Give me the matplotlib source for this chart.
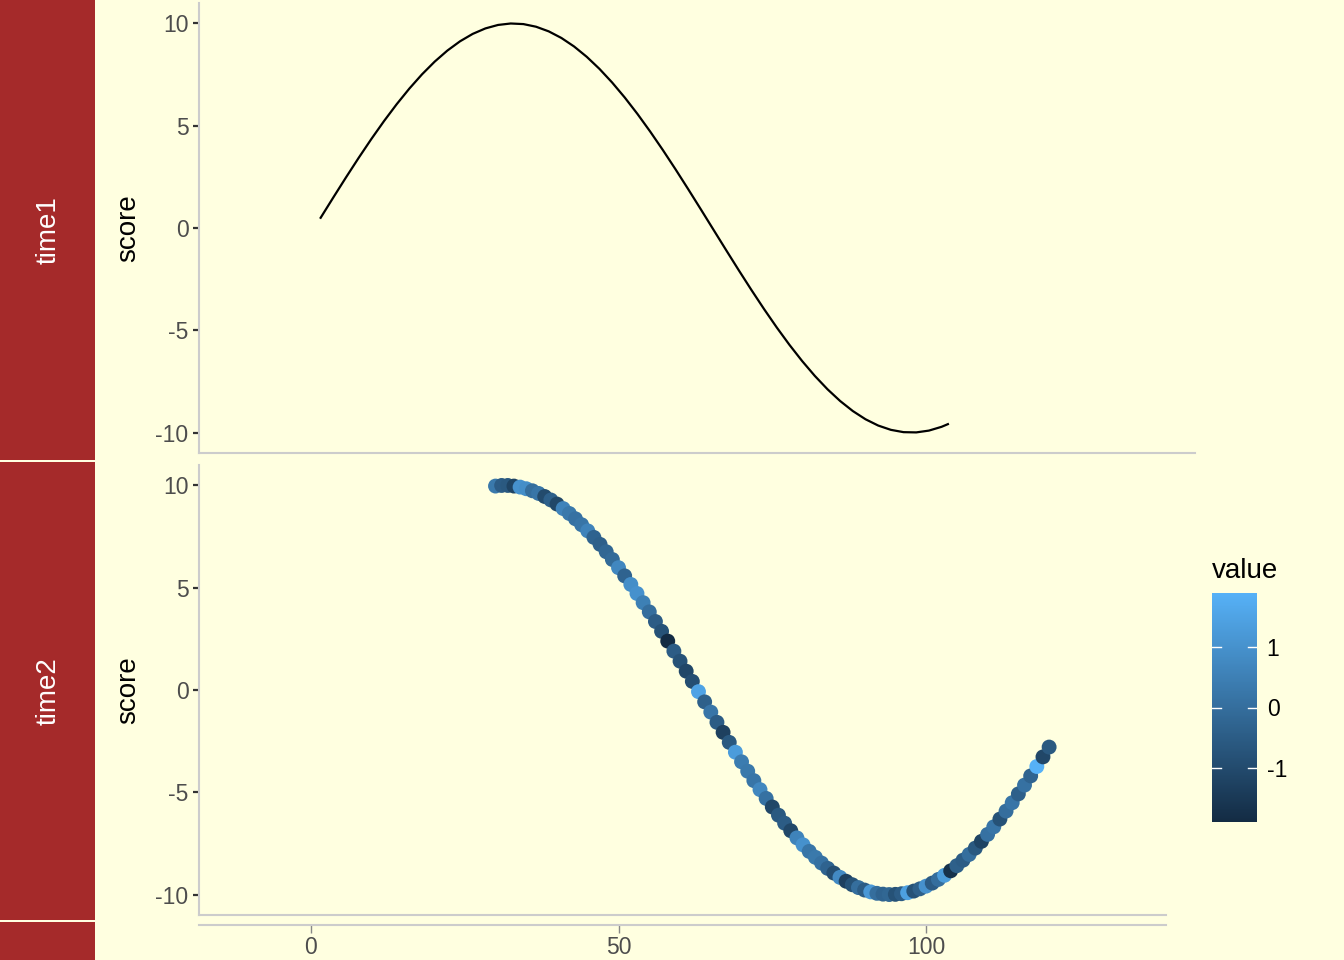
import numpy as np
import matplotlib
matplotlib.use('Agg')
import matplotlib.pyplot as plt
from matplotlib.colors import LinearSegmentedColormap, Normalize
from matplotlib.patches import Rectangle

plt.rcParams['font.family'] = ['Liberation Sans', 'DejaVu Sans']

# top facet: line (time1)
line_x = [1, 3, 5, 7, 9, 11, 13, 15, 17, 19, 21, 23, 25, 27, 29, 31, 33,
          35, 37, 39, 41, 43, 45, 47, 49, 51, 53, 55, 57, 59, 61, 63, 65,
          67, 69, 71, 73, 75, 77, 79, 81, 83, 85, 87, 89, 91, 93, 95, 97,
          99, 100]
line_y = [0.500, 1.494, 2.474, 3.429, 4.350, 5.227, 6.052, 6.816, 7.513,
          8.134, 8.674, 9.128, 9.490, 9.757, 9.927, 9.998, 9.969, 9.840,
          9.613, 9.290, 8.874, 8.369, 7.781, 7.115, 6.378, 5.577, 4.720,
          3.817, 2.875, 1.904, 0.915, -0.084, -1.082, -2.069, -3.035,
          -3.971, -4.868, -5.716, -6.506, -7.232, -7.885, -8.460, -8.950,
          -9.351, -9.658, -9.868, -9.981, -9.993, -9.905, -9.720, -9.589]

# bottom facet: points (time2)
pts_x = [30, 31, 32, 33, 34, 35, 36, 37, 38, 39, 40, 41, 42, 43, 44,
         45, 46, 47, 48, 49, 50, 51, 52, 53, 54, 55, 56, 57, 58, 59, 60,
         61, 62, 63, 64, 65, 66, 67, 68, 69, 70, 71, 72, 73, 74, 75, 76,
         77, 78, 79, 80, 81, 82, 83, 84, 85, 86, 87, 88, 89, 90, 91, 92,
         93, 94, 95, 96,
         97, 98, 99, 100, 101, 102, 103, 104, 105, 106, 107, 108, 109, 110,
         111, 112, 113, 114, 115, 116, 117, 118, 119, 120]
pts_y = [9.97, 10.0, 10.0, 9.97, 9.92, 9.84, 9.74, 9.61, 9.46, 9.29, 9.09,
         8.87, 8.63, 8.37, 8.08,
         7.78, 7.46, 7.12, 6.76, 6.38, 5.98, 5.58, 5.16, 4.72, 4.27, 3.82,
         3.35, 2.87, 2.39, 1.90, 1.41,
         0.92, 0.42, -0.08, -0.58, -1.08, -1.58, -2.07, -2.56, -3.04, -3.51,
         -3.97, -4.43, -4.87, -5.30, -5.72, -6.12,
         -6.51, -6.88, -7.23, -7.57, -7.89, -8.18, -8.46, -8.72, -8.95, -9.16,
         -9.35, -9.52, -9.66, -9.78, -9.87, -9.94, -9.98, -10.0, -9.99, -9.96,
         -9.91, -9.83, -9.72, -9.59, -9.44, -9.26, -9.06, -8.84, -8.59, -8.32,
         -8.04, -7.73, -7.40, -7.06, -6.69, -6.31, -5.92, -5.51, -5.08, -4.65,
         -4.20, -3.74, -3.27, -2.79]
pts_value = [0.3, -0.5, -0.6, -1.2, 1.0, 0.9, 0.0, 0.2, -1.0, -0.4, -1.1,
             0.6, 0.3, 0.1, 0.2,
             0.6, -0.3, -0.4, -0.2, -0.1, 0.7, -0.3, 0.9, 1.0, 0.5, 0.0,
             -0.5, -0.8, -1.9, -0.5, -0.8,
             -1.1, -0.9, 1.5, -0.4, 0.2, -0.5, -1.3, -0.6, 1.3, 0.4, 0.3,
             0.2, 0.7, 0.1, -1.1, -0.6,
             -0.5, -1.1, 0.6, 1.0, 0.2, 0.3, 0.1, -0.3, -0.9, 0.8, -1.3,
             -0.8, 0.0, -0.5, 1.2, 0.0, -0.3, -0.2, -0.8, -0.5,
             1.4, -0.8, -0.4, 1.0, -0.5, 0.0, 1.3, -1.7, -0.4, -0.5, 0.0,
             -0.6, -1.2, 0.1, 0.2, -0.8, 0.0, 0.2, -0.4, 0.1, -0.3, 1.9,
             -1.1, -0.6]

facets = ['time1', 'time2']
y_ticks = [-10, -5, 0, 5, 10]
x_ticks = [0, 50, 100]
cb_ticks = [-1, 0, 1]

W, H = 1344, 960
BG = '#FFFFE0'
STRIP = '#A52A2A'
SPINE = '#CCCCCC'


def fr(x0, y_top, x1, y_bot):
    # pixel box -> figure fraction rect
    return [x0 / W, 1 - y_bot / H, (x1 - x0) / W, (y_bot - y_top) / H]


def style_panel(ax):
    ax.set_facecolor('none')
    for s in ['top', 'right']:
        ax.spines[s].set_visible(False)
    for s in ['left', 'bottom']:
        ax.spines[s].set_color(SPINE)
        ax.spines[s].set_linewidth(1.5)
    ax.set_xlim(-18.2, 139)
    ax.set_ylim(-11, 11)
    ax.set_yticks(y_ticks)
    ax.set_yticklabels([str(t) for t in y_ticks])
    ax.tick_params(axis='y', length=4.5, width=1.6, color='#333333',
                   labelsize=16.5, labelcolor='#4D4D4D', pad=3)
    ax.tick_params(axis='x', bottom=False, labelbottom=False)
    ax.set_ylabel('score', fontsize=20, color='black')


fig = plt.figure(figsize=(W / 100, H / 100), dpi=100, facecolor=BG)

# strips on the left
for (y0, y1) in [(0, 460), (462, 920), (922, 960)]:
    fig.add_artist(Rectangle((0, 1 - y1 / H), 95 / W, (y1 - y0) / H,
                             transform=fig.transFigure, facecolor=STRIP,
                             edgecolor='none'))
for yc, lab in zip([230, 691], facets):
    fig.text(49 / W, 1 - yc / H, lab, rotation=90, color='white',
             fontsize=20, ha='center', va='center')

ax1 = fig.add_axes(fr(199, 3, 1195, 453))
style_panel(ax1)
ax1.yaxis.set_label_coords((141 - 199) / 996, 0.5)
ax1.plot(line_x, line_y, color='black', linewidth=1.6)

ax2 = fig.add_axes(fr(199, 465, 1166, 915))
style_panel(ax2)
ax2.yaxis.set_label_coords((141 - 199) / 967, 0.5)
cmap = LinearSegmentedColormap.from_list('gg', ['#132B43', '#56B1F7'])
norm = Normalize(vmin=min(pts_value), vmax=max(pts_value))
sc = ax2.scatter(pts_x, pts_y, c=pts_value, cmap=cmap, norm=norm,
                 s=115, linewidths=0, zorder=3)

# shared x axis row
axx = fig.add_axes(fr(199, 924, 1166, 925))
axx.set_facecolor('none')
for s in ['top', 'right', 'left']:
    axx.spines[s].set_visible(False)
axx.spines['bottom'].set_color(SPINE)
axx.spines['bottom'].set_linewidth(1.5)
axx.set_xlim(-18.2, 139)
axx.set_yticks([])
axx.set_xticks(x_ticks)
axx.set_xticklabels([str(t) for t in x_ticks])
axx.tick_params(axis='x', length=6, width=1, color='#888888',
                labelsize=16.5, labelcolor='#4D4D4D', pad=2)

# colourbar legend
cax = fig.add_axes(fr(1212, 593, 1257, 822))
cb = fig.colorbar(sc, cax=cax)
cb.outline.set_visible(False)
cb.set_ticks(cb_ticks)
cb.set_ticklabels([str(t) for t in cb_ticks])
cb.ax.tick_params(length=0, labelsize=16.5, labelcolor='black', pad=7)
for t in cb_ticks:
    cax.plot([0, 0.2], [t, t], color='white', linewidth=1,
             transform=cax.get_yaxis_transform())
    cax.plot([0.8, 1], [t, t], color='white', linewidth=1,
             transform=cax.get_yaxis_transform())
fig.text(1212 / W, 1 - 571 / H, 'value', fontsize=20, ha='left',
         va='center', color='black')

fig.savefig('out.png', dpi=100, facecolor=BG)
